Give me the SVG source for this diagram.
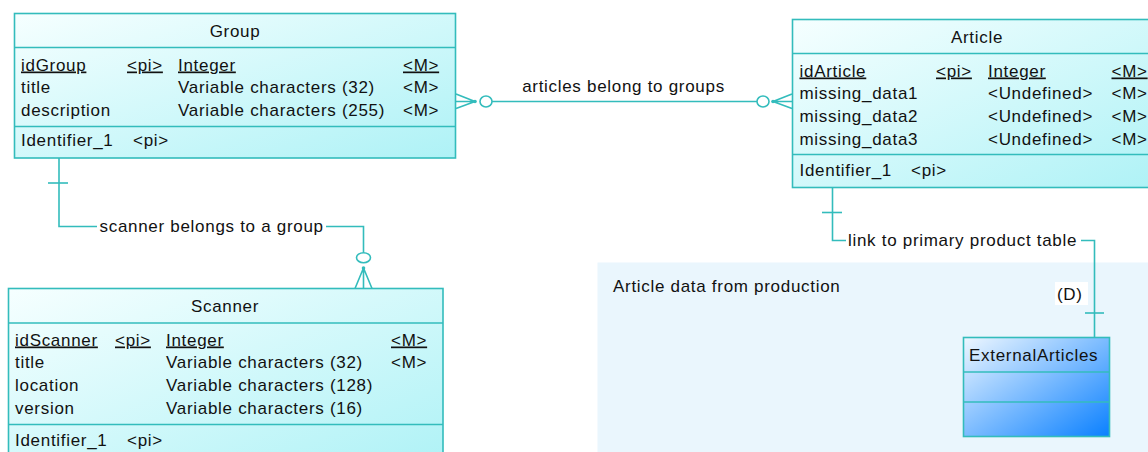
<svg xmlns="http://www.w3.org/2000/svg" width="1148" height="452" viewBox="0 0 1148 452">
<style>
text{font-family:"Liberation Sans",Arial,sans-serif;font-size:17px;letter-spacing:0.7px;fill:#111111}
.t{text-anchor:middle}
.u{text-decoration:underline}
.box{stroke:#33bcbc;stroke-width:1.6}
.ent{fill:url(#cyanGrad)}
.sep{stroke:#33bcbc;stroke-width:1.6}
.ln{fill:none;stroke:#33bcbc;stroke-width:1.6}
.circ{fill:#ffffff;stroke:#33bcbc;stroke-width:1.6}
.dot{fill:#33bcbc}
</style>
<defs>
<linearGradient id="cyanGrad" x1="0" y1="0" x2="1" y2="1">
<stop offset="0" stop-color="#f6ffff"/>
<stop offset="1" stop-color="#aef2f6"/>
</linearGradient>
<linearGradient id="blueGrad" x1="0" y1="0" x2="1" y2="1">
<stop offset="0" stop-color="#eef7ff"/>
<stop offset="1" stop-color="#0a80ff"/>
</linearGradient>
</defs>
<rect width="1148" height="452" fill="#ffffff"/>

<g id="package-ArticleData">
<rect x="597.5" y="262.5" width="560" height="200" fill="#eaf6fd"/>
<text x="613" y="292">Article data from production</text>
</g>

<g id="connectors">
<!-- articles belong to groups -->
<path class="ln" d="M456,94 L475,101.5 M456,101.5 H475 M456,108.5 L475,101.5"/>
<circle class="dot" cx="475" cy="101.5" r="1.8"/>
<ellipse class="circ" cx="486" cy="101.5" rx="6" ry="5.5"/>
<path class="ln" d="M492,101.5 H757"/>
<ellipse class="circ" cx="763" cy="101.5" rx="6" ry="5.5"/>
<path class="ln" d="M792,94 L773,101.5 M792,101.5 H773 M792,108.5 L773,101.5"/>
<circle class="dot" cx="773" cy="101.5" r="1.8"/>
<text class="t" x="623.5" y="91.5">articles belong to groups</text>

<!-- scanner belongs to a group -->
<path class="ln" d="M59,158 V226.5 H97"/>
<path class="ln" d="M48,183 H68"/>
<text x="99.5" y="232">scanner belongs to a group</text>
<path class="ln" d="M326,226.5 H363.5 V252.5"/>
<ellipse class="circ" cx="363.5" cy="257.7" rx="7" ry="5"/>
<path class="ln" d="M363.5,268 L355,288.5 M363.5,268 V288.5 M363.5,268 L372,288.5"/>
<circle class="dot" cx="363.5" cy="268" r="1.8"/>

<!-- link to primary product table -->
<path class="ln" d="M832.5,187 V240.5 H846"/>
<path class="ln" d="M822,212.5 H842"/>
<text x="848" y="245.5">link to primary product table</text>
<path class="ln" d="M1081,240.5 H1094.5 V337.5"/>
<path class="ln" d="M1085,313 H1104"/>
<rect x="1055" y="282" width="33" height="23" fill="#ffffff"/>
<text x="1057" y="300">(D)</text>
</g>

<g id="entity-Group">
<rect class="box ent" x="14.5" y="13.5" width="441" height="144.5"/>
<line class="sep" x1="14.5" y1="47.5" x2="455.5" y2="47.5"/>
<line class="sep" x1="14.5" y1="126.5" x2="455.5" y2="126.5"/>
<text class="t" x="235" y="37">Group</text>
<text class="u" x="21" y="70.5">idGroup</text>
<text class="u" x="127" y="70.5">&lt;pi&gt;</text>
<text class="u" x="178" y="70.5">Integer</text>
<text class="u" x="403" y="70.5">&lt;M&gt;</text>
<text x="21" y="93">title</text>
<text x="178" y="93">Variable characters (32)</text>
<text x="403" y="93">&lt;M&gt;</text>
<text x="21" y="115.5">description</text>
<text x="178" y="115.5">Variable characters (255)</text>
<text x="403" y="115.5">&lt;M&gt;</text>
<text x="21" y="146">Identifier_1</text>
<text x="133" y="146">&lt;pi&gt;</text>
</g>

<g id="entity-Article">
<rect class="box ent" x="792.5" y="19.5" width="370" height="168"/>
<line class="sep" x1="792.5" y1="53.5" x2="1162" y2="53.5"/>
<line class="sep" x1="792.5" y1="154.5" x2="1162" y2="154.5"/>
<text class="t" x="977" y="42.5">Article</text>
<text class="u" x="799.5" y="76.5">idArticle</text>
<text class="u" x="936" y="76.5">&lt;pi&gt;</text>
<text class="u" x="988" y="76.5">Integer</text>
<text class="u" x="1111.5" y="76.5">&lt;M&gt;</text>
<text x="799.5" y="99.3">missing_data1</text>
<text x="988" y="99.3">&lt;Undefined&gt;</text>
<text x="1111.5" y="99.3">&lt;M&gt;</text>
<text x="799.5" y="122">missing_data2</text>
<text x="988" y="122">&lt;Undefined&gt;</text>
<text x="1111.5" y="122">&lt;M&gt;</text>
<text x="799.5" y="144.8">missing_data3</text>
<text x="988" y="144.8">&lt;Undefined&gt;</text>
<text x="1111.5" y="144.8">&lt;M&gt;</text>
<text x="799.5" y="175.5">Identifier_1</text>
<text x="911" y="175.5">&lt;pi&gt;</text>
</g>

<g id="entity-Scanner">
<rect class="box ent" x="8.5" y="288.5" width="434.5" height="180"/>
<line class="sep" x1="8.5" y1="323" x2="443" y2="323"/>
<line class="sep" x1="8.5" y1="424.5" x2="443" y2="424.5"/>
<text class="t" x="225" y="311.5">Scanner</text>
<text class="u" x="15" y="345.5">idScanner</text>
<text class="u" x="115" y="345.5">&lt;pi&gt;</text>
<text class="u" x="166" y="345.5">Integer</text>
<text class="u" x="391" y="345.5">&lt;M&gt;</text>
<text x="15" y="368.3">title</text>
<text x="166" y="368.3">Variable characters (32)</text>
<text x="391" y="368.3">&lt;M&gt;</text>
<text x="15" y="391">location</text>
<text x="166" y="391">Variable characters (128)</text>
<text x="15" y="414">version</text>
<text x="166" y="414">Variable characters (16)</text>
<text x="15" y="445.5">Identifier_1</text>
<text x="127" y="445.5">&lt;pi&gt;</text>
</g>

<g id="entity-ExternalArticles">
<rect class="box" x="963.5" y="337.5" width="146" height="99" fill="url(#blueGrad)"/>
<line class="sep" x1="963.5" y1="372" x2="1109.5" y2="372"/>
<line class="sep" x1="963.5" y1="402" x2="1109.5" y2="402"/>
<text x="969" y="361">ExternalArticles</text>
</g>
</svg>
